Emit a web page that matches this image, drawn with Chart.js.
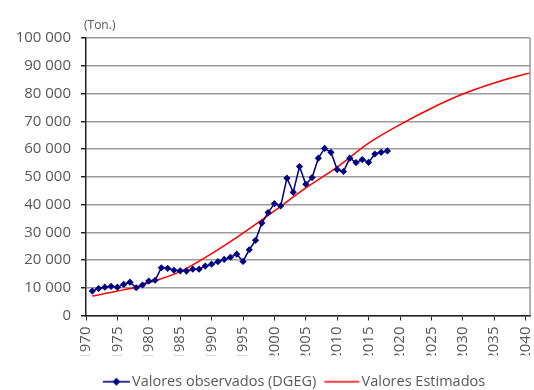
<!DOCTYPE html>
<html lang="pt">
<head>
    <meta charset="UTF-8">
    <title>Valores observados e estimados</title>
    <style>
        html, body { margin: 0; padding: 0; background: #fff; }
        .chart-box { width: 534px; height: 390px; }
    </style>
</head>
<body>
    <div class="chart-box">
        <canvas id="tonChart" width="534" height="390"></canvas>
    </div>

    <script src="https://cdn.jsdelivr.net/npm/chart.js"></script>
    <script>
        // observed series (DGEG), tonnes per year
        const years = [1971, 1972, 1973, 1974, 1975, 1976, 1977, 1978, 1979, 1980,
                       1981, 1982, 1983, 1984, 1985, 1986, 1987, 1988, 1989, 1990,
                       1991, 1992, 1993, 1994, 1995, 1996, 1997, 1998, 1999, 2000,
                       2001, 2002, 2003, 2004, 2005, 2006, 2007, 2008, 2009, 2010,
                       2011, 2012, 2013, 2014, 2015, 2016, 2017, 2018];
        const observed = [8800, 9700, 10200, 10500, 10200, 11200, 12000, 10000, 11000, 12400,
                          12700, 17200, 17000, 16300, 16100, 16000, 16700, 16700, 17800, 18500,
                          19400, 20200, 21000, 22100, 19500, 23700, 27100, 33300, 37100, 40300,
                          39500, 49500, 44400, 53700, 47300, 49700, 56700, 60200, 58800, 52600,
                          51900, 56700, 55100, 56200, 55200, 58200, 58800, 59300];

        // estimated curve
        const estYears = [1971, 1975, 1978, 1980, 1985, 1990, 1995, 2000, 2005, 2010,
                          2015, 2020, 2025, 2030, 2035, 2040, 2041];
        const estimated = [7000, 8800, 10300, 11800, 15800, 22300, 29700, 37700, 46000, 53500,
                           62100, 68800, 74700, 79800, 83800, 87000, 87500];

        const yTicks = [0, 10000, 20000, 30000, 40000, 50000, 60000, 70000, 80000, 90000, 100000];
        const xTicks = [1970, 1975, 1980, 1985, 1990, 1995, 2000, 2005, 2010, 2015,
                        2020, 2025, 2030, 2035, 2040];

        const seriesNames = ['Valores observados (DGEG)', 'Valores Estimados'];
        const unitLabel = '(Ton.)';

        const FONT = '"Open Sans", "DejaVu Sans", sans-serif';
        const TEXT = '#595959';
        const NAVY = '#000080';
        const RED = '#ff0000';
        const legendShift = { x: 25, y: 11 };

        function fmtThousands(v) {
            return String(v).replace(/\B(?=(\d{3})+(?!\d))/g, ' ');
        }

        // little line (+ diamond) sample used as legend symbol
        function legendSymbol(color, withMarker) {
            const c = document.createElement('canvas');
            c.width = 42;
            c.height = 12;
            const g = c.getContext('2d');
            g.strokeStyle = color;
            g.lineWidth = 1.6;
            g.beginPath();
            g.moveTo(withMarker ? 14 : 6, 6);
            g.lineTo(41, 6);
            g.stroke();
            if (withMarker) {
                g.fillStyle = color;
                g.beginPath();
                g.moveTo(27.5, 2);
                g.lineTo(31.5, 6);
                g.lineTo(27.5, 10);
                g.lineTo(23.5, 6);
                g.closePath();
                g.fill();
            }
            return c;
        }

        const extras = {
            id: 'extras',
            afterLayout(chart) {
                const lg = chart.legend;
                lg.left += legendShift.x;
                lg.right += legendShift.x;
                lg.top += legendShift.y;
                lg.bottom += legendShift.y;
            },
            afterDraw(chart) {
                const { ctx, chartArea } = chart;
                ctx.save();
                // right frame edge
                ctx.strokeStyle = '#9a9a9a';
                ctx.lineWidth = 1.5;
                ctx.beginPath();
                ctx.moveTo(chartArea.right, chartArea.top);
                ctx.lineTo(chartArea.right, chartArea.bottom);
                ctx.stroke();
                // unit label above the value axis
                ctx.fillStyle = TEXT;
                ctx.font = '12px ' + FONT;
                ctx.textBaseline = 'middle';
                ctx.fillText(unitLabel, chartArea.left - 2, chartArea.top - 12);
                ctx.restore();
            }
        };

        function runChart() {
            const ctx = document.getElementById('tonChart').getContext('2d');
            new Chart(ctx, {
                type: 'line',
                data: {
                    datasets: [{
                        label: seriesNames[0],
                        data: years.map((y, i) => ({ x: y, y: observed[i] })),
                        borderColor: NAVY,
                        backgroundColor: NAVY,
                        borderWidth: 1.5,
                        pointStyle: 'rectRot',
                        pointRadius: 3.6,
                        pointBorderWidth: 0,
                        tension: 0,
                        order: 1
                    }, {
                        label: seriesNames[1],
                        data: estYears.map((y, i) => ({ x: y, y: estimated[i] })),
                        borderColor: RED,
                        backgroundColor: RED,
                        borderWidth: 1.5,
                        pointRadius: 0,
                        cubicInterpolationMode: 'monotone',
                        order: 2
                    }]
                },
                options: {
                    responsive: false,
                    animation: false,
                    events: [],
                    layout: { padding: { top: 38, right: 4, left: 0, bottom: 2 } },
                    scales: {
                        x: {
                            type: 'linear',
                            min: 1970,
                            max: 2040.7,
                            afterBuildTicks: s => { s.ticks = xTicks.map(v => ({ value: v })); },
                            afterFit: s => {
                                s.height = 40;
                                s.paddingLeft = 0;
                                s.paddingRight = 0;
                            },
                            ticks: {
                                minRotation: 90,
                                maxRotation: 90,
                                padding: 6,
                                color: TEXT,
                                font: { family: FONT, size: 15 },
                                callback: v => String(v)
                            },
                            grid: {
                                drawOnChartArea: false,
                                drawTicks: true,
                                tickLength: 5,
                                tickColor: '#222'
                            },
                            border: { color: '#222', width: 1.5 }
                        },
                        y: {
                            min: 0,
                            max: 100000,
                            afterBuildTicks: s => { s.ticks = yTicks.map(v => ({ value: v })); },
                            afterFit: s => { s.width = 86; },
                            ticks: {
                                padding: 10,
                                color: TEXT,
                                font: { family: FONT, size: 15 },
                                callback: v => fmtThousands(v)
                            },
                            grid: {
                                color: '#9a9a9a',
                                lineWidth: 1.5,
                                tickLength: 5,
                                tickColor: '#222'
                            },
                            border: { color: '#222', width: 1.5 }
                        }
                    },
                    plugins: {
                        tooltip: { enabled: false },
                        legend: {
                            position: 'bottom',
                            labels: {
                                usePointStyle: true,
                                pointStyleWidth: 30,
                                padding: 8,
                                color: TEXT,
                                font: { family: FONT, size: 14.5 },
                                generateLabels: chart => chart.data.datasets.map((ds, i) => ({
                                    text: ds.label,
                                    fontColor: TEXT,
                                    pointStyle: legendSymbol(ds.borderColor, i === 0),
                                    lineWidth: 0,
                                    strokeStyle: 'transparent',
                                    fillStyle: 'transparent',
                                    datasetIndex: i
                                }))
                            }
                        }
                    }
                },
                plugins: [extras]
            });
        }

        window.onload = runChart;
    </script>
</body>
</html>
